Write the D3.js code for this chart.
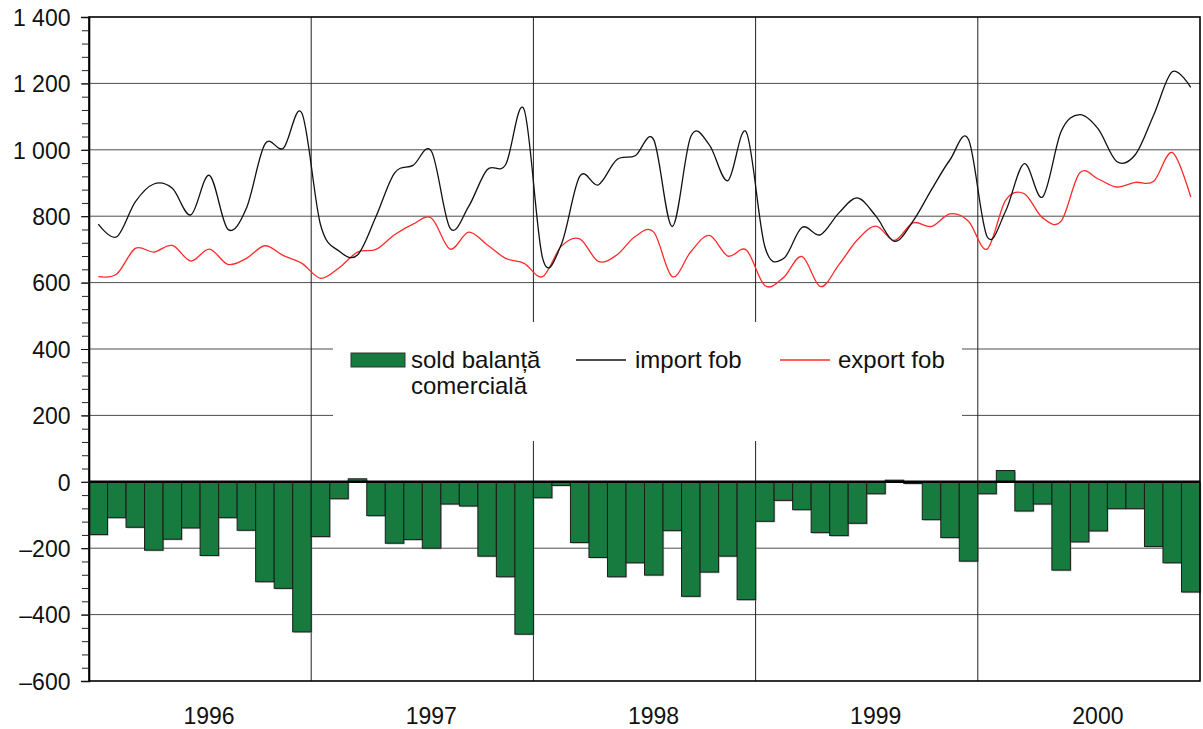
<!DOCTYPE html>
<html>
<head>
<meta charset="utf-8">
<script src="https://cdn.jsdelivr.net/npm/d3@7/dist/d3.min.js"></script>
<style>
  html, body { margin: 0; padding: 0; background: #fff; }
  svg { display: block; font-family: "Liberation Sans", Arial, sans-serif; }
</style>
</head>
<body>
<svg id="chart" width="1203" height="729"></svg>
<script>
// Monthly trade, 1996–2000 (million USD)
const years = [1996, 1997, 1998, 1999, 2000];
const monthNames = ["01","02","03","04","05","06","07","08","09","10","11","12"];

// trade balance (sold balanță comercială)
const balance = [
  -159, -108, -137, -206, -173, -139, -222, -108, -146, -301, -321, -452,
  -165,  -51,    9, -102, -185, -174, -200,  -67,  -73, -224, -286, -459,
   -48,  -11, -183, -228, -286, -244, -281, -147, -345, -272, -224, -355,
  -119,  -56,  -84, -153, -162, -125,  -36,    5,   -5, -114, -168, -239,
   -36,   34,  -88,  -67, -266, -181, -148,  -81,  -81, -195, -244, -332
];

// imports fob
const importFob = [
   776,  738,  843,  897,  884,  804,  923,  761,  824, 1017, 1005, 1110,
   775,  695,  683,  799,  930,  953,  995,  764,  829,  940,  955, 1121,
   673,  714,  920,  894,  970,  982, 1030,  769, 1040, 1015,  907, 1053,
   708,  672,  766,  744,  810,  855,  800,  724,  785,  880,  970, 1031,
   739,  815,  958,  858, 1055, 1106, 1063,  965,  985, 1105, 1235, 1188
];

// exports fob
const exportFob = [
   618,  626,  703,  692,  712,  665,  701,  655,  673,  711,  681,  658,
   613,  644,  692,  700,  744,  776,  794,  701,  752,  714,  673,  658,
   618,  709,  732,  664,  683,  739,  752,  618,  693,  742,  680,  698,
   591,  615,  679,  588,  654,  729,  770,  727,  780,  769,  807,  785,
   701,  848,  868,  795,  785,  930,  912,  888,  902,  905,  992,  858
];

const yMajorTicks = [-600, -400, -200, 0, 200, 400, 600, 800, 1000, 1200, 1400];

const legendItems = [
  { key: "bar",    lines: ["sold balanță", "comercială"] },
  { key: "import", lines: ["import fob"] },
  { key: "export", lines: ["export fob"] }
];

const months = years.flatMap(yr => monthNames.map(m => `${yr}-${m}`));

const svg = d3.select("#chart");
const plot = { left: 89, right: 1200, top: 17, bottom: 681 };
const FONT = 23;
const barFill = "#177a3e";

const x = d3.scaleBand().domain(months).range([plot.left, plot.right]).paddingInner(0).paddingOuter(0);
const y = d3.scaleLinear().domain([-600, 1400]).range([plot.bottom, plot.top]);
const bw = x.bandwidth();
const cx = i => x(months[i]) + bw / 2;

const locale = d3.formatLocale({ decimal: ",", thousands: " ", grouping: [3], currency: ["", ""], minus: "–" });
const fmt = locale.format(",d");

// horizontal gridlines
svg.append("g").selectAll("line")
  .data(yMajorTicks.filter(v => v !== 0 && v !== 1400 && v !== -600))
  .join("line")
  .attr("x1", plot.left).attr("x2", plot.right)
  .attr("y1", d => y(d)).attr("y2", d => y(d))
  .attr("stroke", "#4d4d4d").attr("stroke-width", 1);

// year separators
svg.append("g").selectAll("line")
  .data(years.slice(1))
  .join("line")
  .attr("x1", d => x(`${d}-01`)).attr("x2", d => x(`${d}-01`))
  .attr("y1", plot.top).attr("y2", plot.bottom)
  .attr("stroke", "#222").attr("stroke-width", 1);

// legend background
const legendBox = { x0: 333, x1: 962, y0: 322, y1: 441 };
svg.append("rect")
  .attr("x", legendBox.x0).attr("y", legendBox.y0)
  .attr("width", legendBox.x1 - legendBox.x0).attr("height", legendBox.y1 - legendBox.y0)
  .attr("fill", "#fff");

// bars with a faint drop shadow
const barG = svg.append("g");
barG.selectAll("rect.shadow")
  .data(balance)
  .join("rect")
  .attr("class", "shadow")
  .attr("x", (d, i) => x(months[i]) + 1.2)
  .attr("y", d => Math.min(y(d), y(0)) + 1.2)
  .attr("width", bw)
  .attr("height", d => Math.abs(y(d) - y(0)))
  .attr("fill", "#9a9a9a").attr("opacity", 0.6);
barG.selectAll("rect.bar")
  .data(balance)
  .join("rect")
  .attr("class", "bar")
  .attr("x", (d, i) => x(months[i]))
  .attr("y", d => Math.min(y(d), y(0)))
  .attr("width", bw)
  .attr("height", d => Math.abs(y(d) - y(0)))
  .attr("fill", barFill).attr("stroke", "#1b1b1b").attr("stroke-width", 1);

// zero line
svg.append("line")
  .attr("x1", plot.left).attr("x2", plot.right)
  .attr("y1", y(0)).attr("y2", y(0))
  .attr("stroke", "#000").attr("stroke-width", 2.5);

// smoothed import / export lines
const line = d3.line()
  .x((d, i) => cx(i))
  .y(d => y(d))
  .curve(d3.curveCardinal.tension(0));

svg.append("path").datum(exportFob)
  .attr("d", line).attr("fill", "none")
  .attr("stroke", "#ff2a2a").attr("stroke-width", 1.3);
svg.append("path").datum(importFob)
  .attr("d", line).attr("fill", "none")
  .attr("stroke", "#111").attr("stroke-width", 1.3);

// frame
svg.append("rect")
  .attr("x", plot.left).attr("y", plot.top)
  .attr("width", plot.right - plot.left).attr("height", plot.bottom - plot.top)
  .attr("fill", "none").attr("stroke", "#000").attr("stroke-width", 1.6);

// y axis: minor then major ticks
svg.append("g")
  .attr("transform", `translate(${plot.left},0)`)
  .call(d3.axisLeft(y).tickValues(d3.range(-600, 1401, 40)).tickSize(7).tickFormat(""))
  .call(g => g.select(".domain").remove())
  .call(g => g.selectAll("line").attr("stroke", "#222"));

const yAxis = svg.append("g")
  .attr("transform", `translate(${plot.left},0)`)
  .call(d3.axisLeft(y).tickValues(yMajorTicks).tickSize(8).tickPadding(10).tickFormat(fmt));
yAxis.select(".domain").attr("stroke", "#000").attr("stroke-width", 1.6);
yAxis.selectAll("line").attr("stroke", "#111");
yAxis.selectAll("text")
  .attr("font-size", FONT)
  .attr("font-family", "'Liberation Sans', Arial, sans-serif")
  .attr("fill", "#111")
  .attr("dy", "0.36em")
  .attr("x", -18.5);

// year labels
svg.append("g").selectAll("text")
  .data(years)
  .join("text")
  .attr("x", d => (x(`${d}-01`) + x(`${d}-12`) + bw) / 2 + 9)
  .attr("y", 724)
  .attr("text-anchor", "middle")
  .attr("font-size", FONT)
  .attr("fill", "#111")
  .text(d => d);

// legend
const lg = svg.append("g").attr("font-size", 24).attr("fill", "#111");
const ly = 360;
lg.append("rect").attr("x", 351).attr("y", ly - 7).attr("width", 54).attr("height", 14)
  .attr("fill", barFill).attr("stroke", "#333").attr("stroke-width", 1);
lg.append("text").attr("x", 411).attr("y", ly + 8)
  .selectAll("tspan").data(legendItems[0].lines).join("tspan")
  .attr("x", 411).attr("dy", (d, i) => i === 0 ? 0 : 26).text(d => d);

lg.append("line").attr("x1", 576).attr("x2", 626).attr("y1", ly).attr("y2", ly)
  .attr("stroke", "#111").attr("stroke-width", 1.3);
lg.append("text").attr("x", 635).attr("y", ly + 8).text(legendItems[1].lines[0]);

lg.append("line").attr("x1", 780).attr("x2", 830).attr("y1", ly).attr("y2", ly)
  .attr("stroke", "#ff2a2a").attr("stroke-width", 1.3);
lg.append("text").attr("x", 838).attr("y", ly + 8).text(legendItems[2].lines[0]);
</script>
</body>
</html>
